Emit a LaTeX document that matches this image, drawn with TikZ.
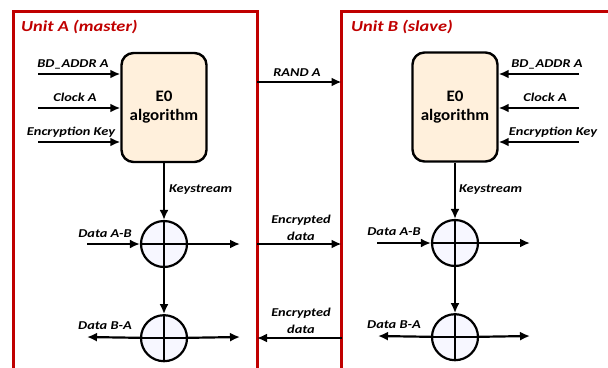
\documentclass[tikz,border=0pt]{standalone}
\usepackage{fontspec}
\setmainfont{Carlito}
\newfontfamily\widefont{Carlito}[FakeStretch=1.2]
\newfontfamily\algofont{Carlito}[FakeStretch=1.06]
\usetikzlibrary{arrows.meta,positioning}

\definecolor{unitred}{HTML}{C00000}
\definecolor{algofill}{HTML}{FFF0DC}

\begin{document}
\begin{tikzpicture}[
  x=1pt, y=-1pt,
  >={Latex[length=10pt,width=9pt]},
  line width=2.2pt,
  unit/.style={draw=unitred, line width=3pt},
  unitlabel/.style={anchor=base west, text=unitred, inner sep=0pt,
                    font=\widefont\bfseries\itshape\fontsize{15.3}{18}\selectfont},
  algo/.style={rectangle, rounded corners=12pt, draw=black, line width=2.4pt,
               fill=algofill, minimum width=85pt, minimum height=109pt,
               align=center, font=\algofont\bfseries\fontsize{16}{19}\selectfont},
  xor/.style={circle, draw=black, fill=blue!3, minimum size=46pt, inner sep=0pt,
              path picture={\draw[line width=2.2pt]
                (path picture bounding box.north) -- (path picture bounding box.south)
                (path picture bounding box.west) -- (path picture bounding box.east);}},
  lbl/.style={anchor=base, inner sep=0pt, align=center,
              font=\widefont\bfseries\itshape\fontsize{12}{17}\selectfont}
]
\useasboundingbox (0,0) rectangle (608,367);

% --- Units ---
\draw[unit] (13,380) |- (257,11) -- (257,380);
\draw[unit] (341.5,380) |- (620,11);
\node[unitlabel] (labA) at (20,31) {Unit A (master)};
\node[unitlabel] (labB) at (350,31) {Unit B (slave)};

% --- E0 blocks ---
\node[algo] (algoA) at (164,107.5) {E0\\algorithm};
\node[algo] (algoB) at (455,107) {E0\\algorithm};

% --- XOR gates ---
\node[xor] (xorA1) at (164,244) {};
\node[xor, below=46pt of xorA1] (xorA2) {};
\node[xor] (xorB1) at (455,243) {};
\node[xor, below=46pt of xorB1] (xorB2) {};

% --- Inputs of unit A ---
\coordinate (inA1) at (38,74);
\coordinate (inA2) at (38,108);
\coordinate (inA3) at (38,142);
\draw[->] (inA1) -- (algoA.west |- inA1);
\draw[->] (inA2) -- (algoA.west |- inA2);
\draw[->] (inA3) -- (algoA.west |- inA3);
\node[lbl] at (73,67) {BD\_ADDR A};
\node[lbl] at (75,101) {Clock A};
\node[lbl] at (71,135) {Encryption Key};

% --- Inputs of unit B ---
\coordinate (inB1) at (579,74);
\coordinate (inB2) at (579,108);
\coordinate (inB3) at (579,142);
\draw[->] (inB1) -- (algoB.east |- inB1);
\draw[->] (inB2) -- (algoB.east |- inB2);
\draw[->] (inB3) -- (algoB.east |- inB3);
\node[lbl] at (547,67) {BD\_ADDR A};
\node[lbl] at (545,101) {Clock A};
\node[lbl] at (553,135) {Encryption Key};

% --- Keystream ---
\draw[->] (algoA) -- (xorA1);
\draw[->] (algoB) -- (xorB1);
\draw[->] (xorA1) -- (xorA2);
\draw[->] (xorB1) -- (xorB2);
\node[lbl, anchor=base west] at (168,192) {Keystream};
\node[lbl, anchor=base west] at (458,192) {Keystream};

% --- Data paths of unit A ---
\coordinate (dataA1) at (87,244);
\coordinate (outA1) at (240,244);
\coordinate (dataA2) at (87,337);
\coordinate (outA2) at (240,337);
\draw[->] (dataA1) -- (xorA1);
\draw[->] (xorA1) -- (outA1);
\draw[->] (xorA2) -- (dataA2);
\draw[->] (xorA2) -- (outA2);
\node[lbl] at (105,237) {Data A-B};
\node[lbl] at (105,329) {Data B-A};

% --- Data paths of unit B ---
\coordinate (dataB1) at (377,243);
\coordinate (outB1) at (530,243);
\coordinate (dataB2) at (378,336);
\coordinate (outB2) at (530,336);
\draw[->] (dataB1) -- (xorB1);
\draw[->] (xorB1) -- (outB1);
\draw[->] (xorB2) -- (dataB2);
\draw[->] (xorB2) -- (outB2);
\node[lbl] at (394,235) {Data A-B};
\node[lbl] at (394,328) {Data B-A};

% --- Links between the units ---
\coordinate (randA) at (257,82);
\coordinate (randB) at (341.5,82);
\coordinate (encA1) at (257,244);
\coordinate (encB1) at (341.5,244);
\coordinate (encA2) at (257,338);
\coordinate (encB2) at (341.5,338);
\draw[->] (randA) -- (randB);
\draw[->] (encA1) -- (encB1);
\draw[->] (encB2) -- (encA2);
\node[lbl] at (297,76.5) {RAND A};
\node[lbl] at (301,240) {Encrypted\\data};
\node[lbl] at (301,333) {Encrypted\\data};

\end{tikzpicture}
\end{document}
